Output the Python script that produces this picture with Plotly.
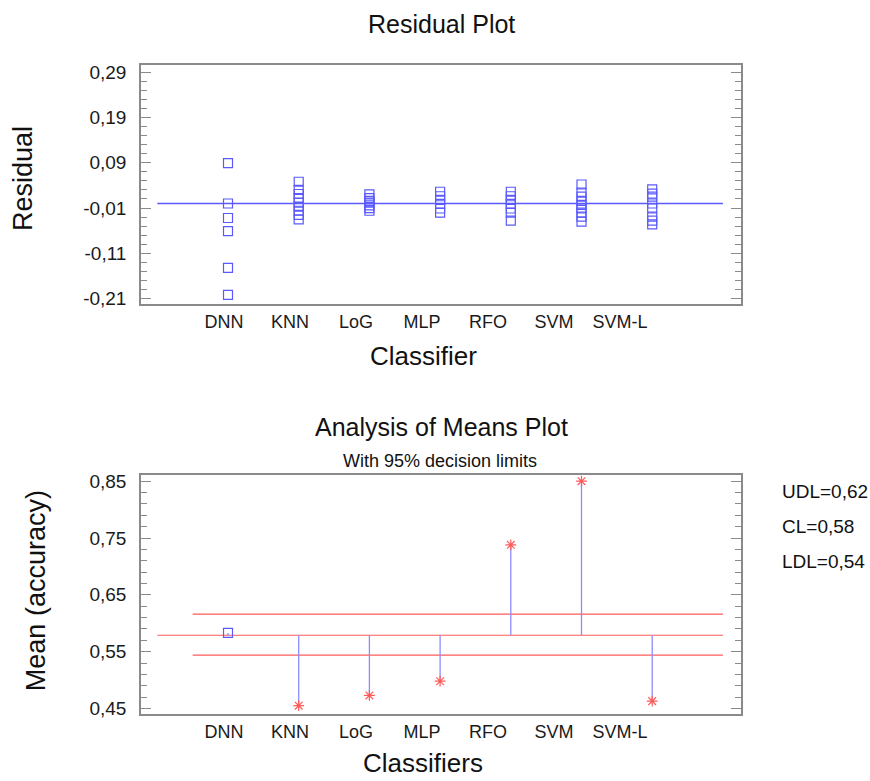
import plotly.graph_objects as go

# ---------------- data ----------------
categories = ["DNN", "KNN", "LoG", "MLP", "RFO", "SVM", "SVM-L"]

res_dnn = [0.089, 0.000, -0.032, -0.061, -0.142, -0.202]
res_knn = [0.048, 0.030, 0.021, 0.012, 0.002, -0.007, -0.016, -0.025, -0.035]
res_log = [0.020, 0.012, 0.006, 0.002, -0.004, -0.010, -0.016]
res_mlp = [0.026, 0.016, 0.008, -0.001, -0.011, -0.020]
res_rfo = [0.026, 0.016, 0.008, -0.001, -0.011, -0.020, -0.038]
res_svm = [0.042, 0.024, 0.015, 0.006, -0.003, -0.011, -0.020, -0.029, -0.040]
res_svml = [0.031, 0.022, 0.015, 0.000, -0.011, -0.029, -0.038, -0.046]
residuals = [res_dnn, res_knn, res_log, res_mlp, res_rfo, res_svm, res_svml]

means = [0.583, 0.455, 0.473, 0.498, 0.738, 0.850, 0.463]
CL = 0.579
UDL = 0.616
LDL = 0.544

res_ticks = [0.29, 0.19, 0.09, -0.01, -0.11, -0.21]
mean_ticks = [0.85, 0.75, 0.65, 0.55, 0.45]

# ---------------- style ----------------
W, H = 870, 781
FONT = "Liberation Sans, Arial, sans-serif"
BLUE = "#5a5aff"
STEM = "#8c8cff"
RED = "#ff5a5a"
AXC = "#8a8a8a"

def px_x(p):
    return p / W

def px_y(p):
    return 1 - p / H

def fmt(v):
    return f"{v:.2f}".replace(".", ",")

n = len(categories)
idx = list(range(n))

fig = go.Figure()

# ---- residual plot ----
rx, ry = [], []
for i, r in enumerate(residuals):
    rx += [i] * len(r)
    ry += r
fig.add_trace(go.Scatter(x=[-1, n], y=[0, 0], mode="lines",
                         line=dict(color=BLUE, width=1.3), xaxis="x", yaxis="y",
                         hoverinfo="skip"))
fig.add_trace(go.Scatter(x=rx, y=ry, mode="markers",
                         marker=dict(symbol="square-open", size=9, color=BLUE,
                                     line=dict(width=1.2, color=BLUE)),
                         xaxis="x", yaxis="y"))

# ---- ANOM plot ----
fig.add_trace(go.Scatter(x=[-1, n], y=[CL, CL], mode="lines",
                         line=dict(color=RED, width=1.1), xaxis="x2", yaxis="y2"))
for lim in (UDL, LDL):
    fig.add_trace(go.Scatter(x=[-0.5, n], y=[lim, lim], mode="lines",
                             line=dict(color=RED, width=1.1), xaxis="x2", yaxis="y2"))
sx, sy = [], []
for i, m in zip(idx, means):
    sx += [i, i, None]
    sy += [CL, m, None]
fig.add_trace(go.Scatter(x=sx, y=sy, mode="lines",
                         line=dict(color=STEM, width=1.3), xaxis="x2", yaxis="y2"))
inside = [(i, m) for i, m in zip(idx, means) if LDL <= m <= UDL]
outside = [(i, m) for i, m in zip(idx, means) if not (LDL <= m <= UDL)]
fig.add_trace(go.Scatter(x=[p[0] for p in inside], y=[p[1] for p in inside],
                         mode="markers",
                         marker=dict(symbol="square-open", size=9, color=BLUE,
                                     line=dict(width=1.2, color=BLUE)),
                         xaxis="x2", yaxis="y2"))
fig.add_trace(go.Scatter(x=[p[0] for p in outside], y=[p[1] for p in outside],
                         mode="markers",
                         marker=dict(symbol="asterisk-open", size=9, color=RED,
                                     line=dict(width=1.2, color=RED)),
                         xaxis="x2", yaxis="y2"))

# ---------------- axes ----------------
xdom = [px_x(141), px_x(740.5)]
pt_range = [-1.2306, 7.249]
lab_range = [-1.2576, 7.826]

def xbase(anchor, dom):
    return dict(domain=dom, anchor=anchor, range=pt_range, showticklabels=False,
                showline=True, mirror=True, linecolor=AXC, linewidth=1.5,
                ticks="", showgrid=False, zeroline=False, fixedrange=True)

def xlab(overlay, anchor, standoff):
    return dict(domain=xdom, anchor=anchor, overlaying=overlay, range=lab_range,
                tickmode="array", tickvals=idx, ticktext=categories,
                ticks="", showline=False, showgrid=False, zeroline=False,
                ticklabelstandoff=standoff,
                tickfont=dict(family=FONT, size=18, color="#1a1a1a"))

def ybase(dom, rng, tv, minor_start):
    return dict(domain=dom, range=rng, tickmode="array", tickvals=tv,
                ticktext=[fmt(v) for v in tv], ticks="inside", ticklen=10,
                tickwidth=1, tickcolor=AXC, showline=True, mirror="ticks",
                linecolor=AXC, linewidth=1.5, showgrid=False, zeroline=False,
                ticklabelstandoff=9,
                minor=dict(ticks="inside", ticklen=6, tickwidth=1, tickcolor=AXC,
                           tickmode="linear", tick0=minor_start, dtick=0.02),
                tickfont=dict(family=FONT, size=19, color="#1a1a1a"))

ytop = [px_y(304), px_y(62)]
ybot = [px_y(718.3), px_y(476)]

fig.update_layout(
    xaxis=xbase("y", xdom),
    xaxis2=xbase("y2", xdom),
    xaxis3=xlab("x", "y", 5),
    xaxis4=xlab("x2", "y2", 5),
    yaxis=ybase(ytop, [-0.2231, 0.3053], res_ticks, 0.29),
    yaxis2=ybase(ybot, [0.4403, 0.8617], mean_ticks, 0.85),
)
# empty traces so the label axes are drawn
fig.add_trace(go.Scatter(x=[None], y=[None], xaxis="x3", yaxis="y", showlegend=False))
fig.add_trace(go.Scatter(x=[None], y=[None], xaxis="x4", yaxis="y2", showlegend=False))

# ---------------- text ----------------
ann = []
def txt(t, x, y, size, xanchor="center", angle=0):
    ann.append(dict(text=t, x=px_x(x), y=px_y(y), xref="paper", yref="paper",
                    xanchor=xanchor, yanchor="middle", showarrow=False,
                    textangle=angle, font=dict(family=FONT, size=size, color="#111")))

txt("Residual Plot", 441, 20, 25)
txt("Classifier", 423, 356, 26)
txt("Residual", 23, 177, 27, angle=-90)
txt("Analysis of Means Plot", 441, 428, 25)
txt("With 95% decision limits", 440, 462, 18)
txt("Classifiers", 423, 768, 26)
txt("Mean (accuracy)", 36, 594, 27, angle=-90)
txt(f"UDL={fmt(UDL)}", 780, 493, 19, xanchor="left")
txt(f"CL={fmt(CL)}", 780, 529, 19, xanchor="left")
txt(f"LDL={fmt(LDL)}", 780, 564, 19, xanchor="left")

fig.update_layout(
    width=W, height=H, autosize=False,
    margin=dict(l=0, r=0, t=0, b=0),
    paper_bgcolor="white", plot_bgcolor="white",
    showlegend=False, annotations=ann,
    font=dict(family=FONT),
)

fig.write_html("out.html", config={"displayModeBar": False},
               post_script="document.body.style.margin='0';")
